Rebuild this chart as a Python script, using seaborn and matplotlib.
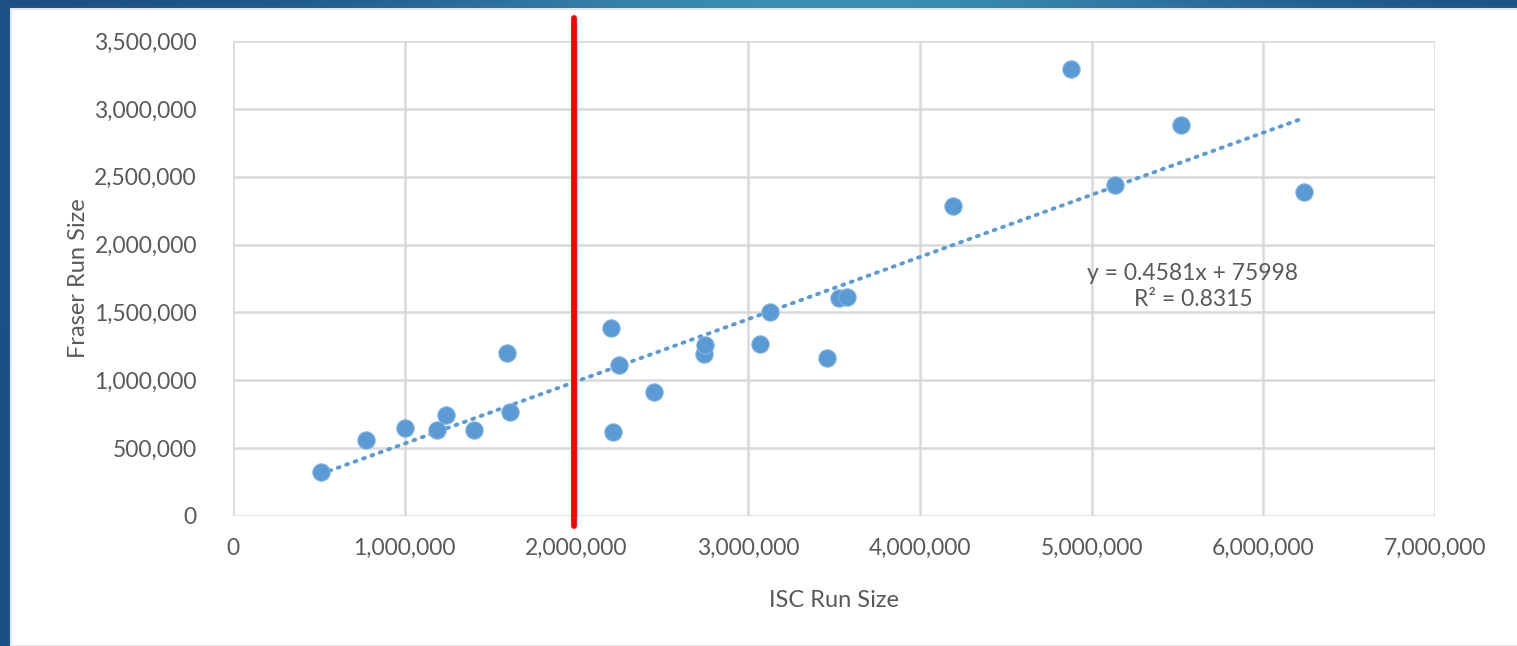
import numpy as np
import matplotlib
matplotlib.use("Agg")
import matplotlib.pyplot as plt
import seaborn as sns
import pandas as pd
from matplotlib.ticker import FuncFormatter, MultipleLocator
from matplotlib.patches import Rectangle

# Run sizes per year: ISC vs Fraser
isc_run = [512000, 775000, 1002000, 1188000, 1241000, 1404000, 1596000, 1613000,
           2202000, 2213000, 2248000, 2452000, 2743000, 2749000, 3069000, 3128000,
           3460000, 3529000, 3576000, 4193000, 4881000, 5137000, 5521000, 6238000]
fraser_run = [324000, 560000, 648000, 634000, 744000, 634000, 1201000, 766000,
              1385000, 619000, 1113000, 914000, 1194000, 1260000, 1267000, 1503000,
              1164000, 1606000, 1614000, 2284000, 3294000, 2439000, 2881000, 2388000]

# Linear trend coefficients
slope = 0.4581
intercept = 75998
r_squared = 0.8315
threshold = 1985000

x_label = "ISC Run Size"
y_label = "Fraser Run Size"

df = pd.DataFrame({"isc": isc_run, "fraser": fraser_run})

sns.set_theme(style="white")
plt.rcParams["font.family"] = ["Lato", "DejaVu Sans"]

W, H = 1517, 646
fig = plt.figure(figsize=(W / 100, H / 100), dpi=100)

# Slide-style blue gradient frame behind the white chart area
bg = fig.add_axes([0, 0, 1, 1], zorder=-10)
gx = np.linspace(0, 1, 300)
gy = np.linspace(0, 1, 60)
GX, GY = np.meshgrid(gx, gy)
c_dark = np.array([0x1b, 0x4f, 0x84]) / 255
c_light = np.array([0x3a, 0x8f, 0xb4]) / 255
t = np.exp(-((GX - 0.55) ** 2) / 0.08) * (1 - 0.6 * GY)
img = c_dark[None, None, :] * (1 - t[..., None]) + c_light[None, None, :] * t[..., None]
bg.imshow(img, extent=[0, 1, 0, 1], aspect="auto", origin="upper")
bg.set_xlim(0, 1)
bg.set_ylim(0, 1)
bg.axis("off")
bg.add_patch(Rectangle((11 / W, 0), 1, (H - 9) / H, facecolor="white",
                       edgecolor="#e6e6e6", linewidth=1.5, transform=bg.transAxes))

ax = fig.add_axes([233 / W, (H - 516) / H, (1435 - 233) / W, (516 - 41) / H])
ax.set_facecolor("none")

ax.set_xlim(0, 7000000)
ax.set_ylim(0, 3500000)
ax.xaxis.set_major_locator(MultipleLocator(1000000))
ax.yaxis.set_major_locator(MultipleLocator(500000))
fmt = FuncFormatter(lambda v, p: f"{int(round(v)):,}")
ax.xaxis.set_major_formatter(fmt)
ax.yaxis.set_major_formatter(fmt)

ax.grid(True, color="#d9d9d9", linewidth=1.8)
ax.set_axisbelow(True)
for s in ax.spines.values():
    s.set_visible(False)

ax.tick_params(axis="both", length=0, labelsize=16.5, colors="#595959")
ax.tick_params(axis="x", pad=16)
ax.tick_params(axis="y", pad=26)

# Trendline over the range of observed ISC values
xs = np.array([min(isc_run), max(isc_run)])
ax.plot(xs, slope * xs + intercept, linestyle=(0, (0.5, 1.8)), dash_capstyle="round",
        color="#5b9bd5", linewidth=2.8, zorder=2)

sns.scatterplot(data=df, x="isc", y="fraser", ax=ax, s=155, color="#5b9bd5",
                edgecolor="#7fb1df", linewidth=0.8, zorder=3, legend=False)

# Threshold marker
ax.axvline(threshold, ymin=-0.022, ymax=1.048, color="#ff0000", linewidth=4.2,
           clip_on=False, zorder=4)

ax.text(5590000, 1690000, f"y = {slope}x + {intercept}\nR² = {r_squared}",
        ha="center", va="center", multialignment="center", fontsize=16.5,
        color="#595959", linespacing=1.3, zorder=5)

ax.set_xlabel(x_label, fontsize=17, color="#595959", labelpad=22)
ax.set_ylabel(y_label, fontsize=17, color="#595959", labelpad=4)

fig.savefig("out.png", dpi=100)
